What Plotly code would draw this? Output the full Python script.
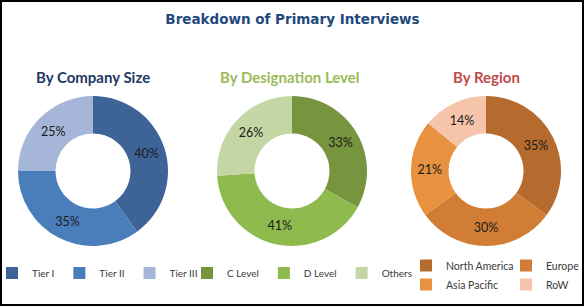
import plotly.graph_objects as go

W, H = 585, 307

title_text = "Breakdown of Primary Interviews"

company_title = "By Company Size"
company_labels = ["Tier I", "Tier II", "Tier III"]
company_values = [40, 35, 25]
company_colors = ["#3e6497", "#4a7ebb", "#a6b6d8"]

desig_title = "By Designation Level"
desig_labels = ["C Level", "D Level", "Others"]
desig_values = [33, 41, 26]
desig_colors = ["#77943f", "#8fba4e", "#c3d6a4"]

region_title = "By Region"
region_labels = ["North America", "Europe", "Asia Pacific", "RoW"]
region_values = [35, 30, 21, 14]
region_colors = ["#b56a2e", "#d27d35", "#e8923f", "#f5c4aa"]

R = 75
CY = 171
FONT = "Lato"


def dom(cx, cy, r):
    return dict(x=[(cx - r) / W, (cx + r) / W], y=[(H - cy - r) / H, (H - cy + r) / H])


def pie(labels, values, colors, cx, legend):
    return go.Pie(
        labels=labels, values=values, sort=False, direction="clockwise", rotation=0,
        hole=0.5, domain=dom(cx, CY, R), legend=legend,
        marker=dict(colors=colors, line=dict(width=0)),
        textinfo="percent", textposition="inside", insidetextorientation="horizontal",
        textfont=dict(family=FONT, size=12.5, color="#1a1a1a"),
        hoverinfo="label+percent",
    )


fig = go.Figure([
    pie(company_labels, company_values, company_colors, 93, "legend"),
    pie(desig_labels, desig_values, desig_colors, 292, "legend2"),
    pie(region_labels, region_values, region_colors, 486, "legend3"),
])


def leg(size, **kw):
    return dict(orientation="h", font=dict(family=FONT, size=size, color="#3a3a3a"),
                bgcolor="rgba(0,0,0,0)", indentation=0, itemwidth=30, yanchor="middle", **kw)


fig.update_layout(
    width=W, height=H,
    margin=dict(l=0, r=0, t=0, b=0, autoexpand=False),
    paper_bgcolor="white", plot_bgcolor="white",
    title=dict(text=title_text, x=0.5, xanchor="center", y=1 - 19 / H, yanchor="middle",
               font=dict(family="DejaVu Sans", size=13.5, color="#1f497d", weight="bold")),
    legend=leg(10, x=-8 / W, xanchor="left", y=1 - 273 / H),
    legend2=leg(10, x=187 / W, xanchor="left", y=1 - 273 / H),
    legend3=leg(10.5, x=(606 / W), xanchor="right", y=1 - 275 / H, entrywidth=55),
    annotations=[
        dict(text=company_title, x=93 / W, y=1 - 77 / H, xref="paper", yref="paper",
             xanchor="center", yanchor="middle", showarrow=False,
             font=dict(family=FONT, size=15, color="#1f3864", weight="bold")),
        dict(text=desig_title, x=290 / W, y=1 - 77 / H, xref="paper", yref="paper",
             xanchor="center", yanchor="middle", showarrow=False,
             font=dict(family=FONT, size=15, color="#9bbb59", weight="bold")),
        dict(text=region_title, x=486 / W, y=1 - 77 / H, xref="paper", yref="paper",
             xanchor="center", yanchor="middle", showarrow=False,
             font=dict(family=FONT, size=15, color="#be4b48", weight="bold")),
    ],
    shapes=[dict(type="rect", xref="paper", yref="paper",
                 x0=1 / W, x1=583 / W, y0=2 / H, y1=1 - 1 / H,
                 line=dict(color="black", width=2))],
)

fig.write_html("out.html")
